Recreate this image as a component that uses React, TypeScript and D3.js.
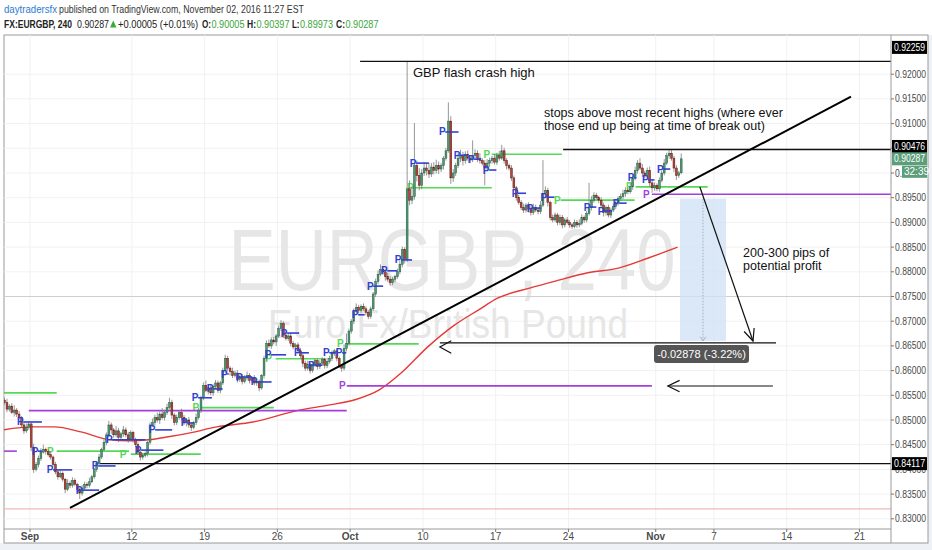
import React, { useMemo } from 'react';
import * as d3 from 'd3';

// 4h bars, index counted from Mon Aug 29 2016 (6 bars per trading day)
const FIRST_BAR = 7;
const firstOpen = 8540; // price * 10000

const closes = [
  8535, 8522, 8528, 8515, 8520, 8512, 8505, 8490, 8478, 8485,
  8492, 8445, 8400, 8410, 8422, 8435, 8440, 8436, 8430, 8425,
  8410, 8395, 8385, 8392, 8380, 8360, 8372, 8368, 8378, 8370,
  8360, 8352, 8362, 8370, 8368, 8375, 8385, 8400, 8412, 8425,
  8440, 8455, 8470, 8490, 8480, 8470, 8478, 8465, 8472, 8480,
  8470, 8462, 8475, 8460, 8450, 8435, 8425, 8428, 8432, 8455,
  8490, 8495, 8505, 8500, 8512, 8505, 8515, 8525, 8535, 8510,
  8495, 8505, 8515, 8505, 8495, 8500, 8490, 8485, 8495, 8505,
  8520, 8545, 8570, 8560, 8565, 8555, 8568, 8575, 8560, 8575,
  8600, 8625, 8605, 8598, 8590, 8595, 8582, 8588, 8578, 8585,
  8590, 8580, 8585, 8575, 8578, 8565, 8590, 8625, 8655, 8650,
  8662, 8658, 8670, 8685, 8695, 8672, 8665, 8670, 8655, 8648,
  8652, 8640, 8630, 8615, 8605, 8612, 8600, 8612, 8620, 8608,
  8615, 8622, 8610, 8618, 8625, 8635, 8640, 8625, 8610, 8605,
  8645, 8655, 8680, 8700, 8720, 8728, 8722, 8730, 8725, 8718,
  8710, 8725, 8755, 8780, 8795, 8805, 8800, 8790, 8785, 8778,
  8785, 8790, 8800, 8815, 8845, 8825, 8968, 8945, 8952, 9015,
  8995, 8975, 9000, 9010, 9005, 8998, 9012, 9005, 9015, 9008,
  9015, 9030, 9045, 9105, 8990, 9000, 9015, 9030, 9035, 9025,
  9038, 9030, 9028, 9035, 9040, 9030, 9025, 9020, 9010, 9020,
  9025, 9030, 9022, 9035, 9030, 9045, 9025, 9015, 9010, 8990,
  8970, 8950, 8940, 8930, 8925, 8935, 8928, 8920, 8930, 8925,
  8922, 8935, 8958, 8965, 8940, 8910, 8905, 8915, 8900, 8910,
  8895, 8905, 8900, 8895, 8892, 8900, 8895, 8898, 8910, 8905,
  8918, 8930, 8945, 8955, 8950, 8945, 8935, 8920, 8930, 8915,
  8925, 8932, 8940, 8948, 8952, 8958, 8965, 8962, 8972, 8990,
  9005, 9020, 9010, 9000, 8995, 9005, 8980, 8970, 8975, 8968,
  8985, 9000, 9020, 9035, 9040, 9030, 9010, 8995, 9000.5, 9028.7,
];

// wick length above / below the body, in pips
const upperWicks = [
  5, 8, 4, 6, 10, 4, 6, 3, 5, 8,
  4, 3, 7, 5, 6, 8, 10, 4, 5, 6,
  3, 5, 4, 6, 4, 3, 8, 5, 6, 4,
  3, 4, 6, 5, 4, 8, 4, 3, 5, 6,
  4, 6, 5, 8, 5, 4, 10, 6, 4, 8,
  5, 6, 4, 3, 4, 5, 3, 6, 4, 3,
  5, 8, 6, 10, 5, 12, 4, 8, 10, 6,
  4, 6, 5, 8, 5, 4, 6, 5, 3, 8,
  5, 4, 6, 10, 5, 8, 4, 6, 5, 4,
  6, 7, 5, 4, 8, 5, 6, 4, 5, 6,
  8, 5, 4, 6, 5, 4, 3, 5, 6, 8,
  5, 6, 4, 6, 7, 5, 8, 4, 6, 5,
  4, 5, 6, 4, 5, 8, 4, 6, 5, 4,
  6, 5, 4, 8, 5, 6, 4, 5, 4, 3,
  8, 20, 5, 4, 6, 8, 5, 4, 6, 5,
  4, 5, 4, 6, 8, 10, 6, 5, 8, 6,
  5, 4, 6, 8, 6, 5, 258, 17, 20, 86,
  10, 15, 8, 12, 10, 15, 8, 10, 12, 8,
  5, 4, 6, 38, 10, 8, 6, 10, 12, 8,
  6, 8, 5, 31, 8, 6, 10, 5, 6, 8,
  6, 5, 8, 6, 10, 12, 6, 5, 4, 6,
  5, 4, 6, 5, 8, 4, 6, 5, 8, 6,
  5, 8, 68, 8, 5, 4, 6, 5, 4, 6,
  5, 4, 6, 5, 4, 6, 5, 8, 6, 4,
  5, 50, 8, 6, 5, 4, 6, 5, 4, 6,
  5, 6, 4, 5, 6, 8, 6, 5, 8, 6,
  8, 6, 10, 8, 5, 6, 8, 5, 6, 4,
  6, 5, 8, 6, 8, 6, 5, 6, 4, 11,
];

const lowerWicks = [
  4, 6, 5, 3, 8, 6, 4, 5, 6, 4,
  5, 8, 7, 4, 6, 5, 3, 6, 4, 5,
  4, 5, 6, 3, 5, 8, 4, 6, 5, 4,
  6, 12, 5, 4, 6, 5, 3, 4, 5, 3,
  4, 3, 6, 5, 8, 6, 5, 10, 4, 6,
  5, 8, 4, 6, 5, 6, 7, 5, 4, 6,
  5, 4, 6, 5, 8, 4, 6, 5, 4, 8,
  6, 5, 4, 6, 5, 8, 6, 7, 4, 5,
  4, 6, 5, 4, 8, 5, 6, 4, 5, 6,
  4, 5, 6, 8, 5, 4, 6, 5, 6, 4,
  5, 6, 4, 5, 6, 7, 4, 6, 5, 4,
  6, 5, 8, 4, 5, 6, 4, 5, 6, 5,
  4, 6, 5, 8, 6, 5, 6, 4, 5, 6,
  5, 4, 6, 5, 4, 6, 5, 6, 5, 7,
  5, 6, 4, 5, 6, 4, 6, 5, 4, 6,
  6, 5, 4, 6, 5, 4, 6, 8, 5, 6,
  5, 6, 4, 5, 6, 8, 5, 10, 8, 6,
  12, 10, 8, 6, 10, 8, 6, 8, 6, 10,
  6, 8, 5, 4, 12, 8, 6, 5, 8, 10,
  6, 5, 8, 6, 5, 8, 6, 5, 35, 6,
  8, 6, 5, 6, 5, 4, 6, 8, 5, 6,
  5, 6, 4, 5, 6, 5, 8, 6, 5, 4,
  6, 5, 4, 6, 8, 6, 5, 4, 6, 5,
  7, 5, 4, 6, 5, 4, 6, 5, 4, 6,
  5, 4, 6, 5, 4, 6, 5, 8, 6, 5,
  6, 4, 5, 6, 4, 5, 6, 5, 4, 6,
  5, 6, 4, 8, 6, 5, 8, 10, 6, 5,
  6, 4, 5, 4, 6, 5, 8, 9, 5, 3.2,
];

// red moving average
const maBars = [7, 19, 28, 39, 51, 59, 67, 75, 84, 95, 110, 129, 141, 152, 162, 171, 182, 193, 203, 211, 224, 236, 248, 261, 273, 285];
const maValues = [0.848, 0.8486, 0.8486, 0.8476, 0.846, 0.8458, 0.846, 0.8466, 0.8474, 0.8486, 0.8496, 0.852, 0.853, 0.8541, 0.8561, 0.8595, 0.8648, 0.8692, 0.8723, 0.8747, 0.8767, 0.8783, 0.8798, 0.8808, 0.8828, 0.885];

const priceTicks = [0.83, 0.835, 0.84, 0.845, 0.85, 0.855, 0.86, 0.865, 0.87, 0.875, 0.88, 0.885, 0.89, 0.895, 0.9, 0.905, 0.91, 0.915, 0.92];
const dateTickBars = [18, 60, 90, 120, 150, 180, 210, 240, 276, 300, 330, 360];
const dateTickLabels = ['Sep', '12', '19', '26', 'Oct', '10', '17', '24', 'Nov', '7', '14', '21'];
const monthLabels = ['Sep', 'Oct', 'Nov'];

// pivot "P" markers: label bar, price, line end bar
const bluePivotBars = [12.6, 18.7, 24.9, 36.9, 43.5, 49.3, 61.2, 67, 80.2, 84.7, 90.9, 96.7, 102.9, 109, 114.8, 121.4, 126.8, 132.6, 138.8, 144.1, 150.7, 156.9, 162.7, 168.4, 174.6, 186.6, 192.7, 198.5, 204.7, 216.6, 222.8, 228.5, 246.3, 252.1, 258.3, 264.5, 270.3, 276.5];
const bluePivotPrices = [0.8496, 0.8437, 0.8399, 0.8358, 0.8407, 0.846, 0.8439, 0.848, 0.8494, 0.8545, 0.8563, 0.8593, 0.8587, 0.8577, 0.8632, 0.8676, 0.8636, 0.8611, 0.8636, 0.8636, 0.8713, 0.8771, 0.8802, 0.8824, 0.902, 0.9083, 0.9036, 0.9028, 0.9006, 0.8959, 0.8929, 0.8951, 0.8931, 0.8923, 0.8939, 0.899, 0.8986, 0.9008];
const bluePivotEnds = [22.9, 23, 35.4, 46.5, 53.3, 65.6, 73, 76.6, 85.5, 93, 97.4, 100, 109.5, 117.6, 123.6, 129, 133, 138.6, 144, 148.4, 156, 163.6, 169.4, 175.5, 182.5, 194.7, 198, 204, 210.3, 222.5, 228.6, 234.2, 251.5, 258, 264, 268, 275.5, 282];

const greenLabelBars = [null, 25, 55, 85, 115, 144.6, 173.4, 205, 234, 263.7];
const greenPrices = [0.8555, 0.8437, 0.8431, 0.8525, 0.8624, 0.8654, 0.897, 0.9038, 0.8945, 0.8972];
const greenStarts = [6.8, 29, 59.6, 88.8, 119.3, 148.2, 175, 208.4, 236.8, 267.7];
const greenEnds = [29, 58.8, 88.4, 118.5, 139.9, 178.3, 208.4, 237.3, 267.3, 297.4];

const purpleLabelBars = [null, null, 145.4, 270.7];
const purplePrices = [0.8437, 0.8519, 0.8569, 0.8957];
const purpleStarts = [6.8, 17.5, 148.6, 274.4];
const purpleEnds = [12.6, 148.6, 274.4, 373];

// drawings
const blackLevels = [0.92259, 0.90476, 0.84117];
const blackLevelStarts = [154.1, 237.8, 46.9];
const targetLevel = 0.8656;
const targetStart = 187;
const targetEnd = 325.6;
const trendBars = [34.5, 356.5];
const trendPrices = [0.83219, 0.91545];
const profitArrowBars = [294.2, 316.1];
const profitArrowPrices = [0.89717, 0.86599];
const supportArrowBars = [324.3, 281];
const supportArrowPrice = 0.85688;
const measureBars = [286, 305];
const measurePrices = [0.8948, 0.86602];
const measureLabel = '-0.02878 (-3.22%)';
const greyLevel = 0.875;
const pinkLevel = 0.832;

const notes = [
  { bar: 175.9, price: 0.91943, text: 'GBP flash crash high', size: 13 },
  { bar: 229.9, price: 0.91134, text: 'stops above most recent highs (where ever', size: 12.5 },
  { bar: 229.9, price: 0.90871, text: 'those end up being at time of break out)', size: 12.5 },
  { bar: 312, price: 0.883, text: '200-300 pips of', size: 12.5 },
  { bar: 312, price: 0.88037, text: 'potential profit', size: 12.5 },
];

const axisBoxes = [
  { price: 0.92259, text: '0.92259', fill: '#000' },
  { price: 0.90476, text: '0.90476', fill: '#000' },
  { price: 0.90287, text: '0.90287', fill: '#5c9e7a' },
  { price: 0.84117, text: '0.84117', fill: '#000' },
];
const countdown = '32:39';

const FONT = 'Liberation Sans, Arial, sans-serif';
const BLUE = '#3040d2';
const GREEN = '#55d855';
const PURPLE = '#a43fdc';

const arrowHead = (x1: number, y1: number, x2: number, y2: number, len = 12, spread = 0.45) => {
  const a = Math.atan2(y1 - y2, x1 - x2);
  const p1 = [x2 + len * Math.cos(a + spread), y2 + len * Math.sin(a + spread)];
  const p2 = [x2 + len * Math.cos(a - spread), y2 + len * Math.sin(a - spread)];
  return `M${p1[0]},${p1[1]} L${x2},${y2} L${p2[0]},${p2[1]}`;
};

const App: React.FC = () => {
  const W = 932;
  const H = 550;
  const plot = { left: 4, top: 35, right: 891, bottom: 529 };

  const { x, y, candles, maPath } = useMemo(() => {
    const x = d3.scaleLinear().domain([18, 373]).range([30, 891]);
    const y = d3.scaleLinear().domain([0.83, 0.92]).range([518.8, 74.2]);
    const candles = closes.map((c, i) => {
      const o = i === 0 ? firstOpen : closes[i - 1];
      return {
        bar: FIRST_BAR + i,
        o: o / 1e4,
        c: c / 1e4,
        h: (Math.max(o, c) + upperWicks[i]) / 1e4,
        l: (Math.min(o, c) - lowerWicks[i]) / 1e4,
      };
    });
    const maPath = d3.line<number>()
      .x((_, i) => x(maBars[i]))
      .y((d) => y(d))
      .curve(d3.curveMonotoneX)(maValues) || '';
    return { x, y, candles, maPath };
  }, []);

  const barW = x(1) - x(0);
  const boxNudge: Record<string, number> = { '0.92259': -14, '0.90476': -3 };

  return (
    <svg width={W} height={H} style={{ position: 'absolute', left: 0, top: 0, background: '#fff' }} fontFamily={FONT}>
      <defs>
        <clipPath id="plotClip">
          <rect x={plot.left} y={plot.top} width={plot.right - plot.left} height={plot.bottom - plot.top} />
        </clipPath>
      </defs>

      {/* header */}
      <g fontSize={11}>
        <text x={4} y={12.5} fill="#2d7cd1" textLength={53} lengthAdjust="spacingAndGlyphs">daytradersfx</text>
        <text x={59} y={12.5} fill="#333" textLength={245} lengthAdjust="spacingAndGlyphs">published on TradingView.com, November 02, 2016 11:27 EST</text>
        <text x={4} y={27.5} fill="#222" fontWeight="bold" textLength={68} lengthAdjust="spacingAndGlyphs">FX:EURGBP, 240</text>
        <text x={77} y={27.5} fill="#222" textLength={32} lengthAdjust="spacingAndGlyphs">0.90287</text>
        <path d="M110,27.5 L116.5,27.5 L113.25,20.5 Z" fill="#3cab3c" />
        <text x={118} y={27.5} fill="#222" textLength={80} lengthAdjust="spacingAndGlyphs">+0.00005 (+0.01%)</text>
        {[
          { k: 'O:', kx: 202, kw: 9, v: '0.90005', vx: 211.5 },
          { k: 'H:', kx: 247, kw: 9, v: '0.90397', vx: 256.5 },
          { k: 'L:', kx: 292, kw: 7.5, v: '0.89973', vx: 300 },
          { k: 'C:', kx: 336, kw: 9, v: '0.90287', vx: 345.5 },
        ].map((d) => (
          <g key={d.k}>
            <text x={d.kx} y={27.5} fill="#222" fontWeight="bold" textLength={d.kw} lengthAdjust="spacingAndGlyphs">{d.k}</text>
            <text x={d.vx} y={27.5} fill="#3aa53a" textLength={33} lengthAdjust="spacingAndGlyphs">{d.v}</text>
          </g>
        ))}
      </g>

      {/* outer frame */}
      <rect x={0} y={543} width={W} height={H - 543} fill="#eef1f5" />
      <rect x={928} y={35} width={4} height={508} fill="#eef1f5" />
      <rect x={4} y={35} width={924} height={508} fill="#fff" stroke="#9a9a9a" strokeWidth={1} />

      {/* grid */}
      <g stroke="#f1f1f1" strokeWidth={1}>
        {priceTicks.map((p) => (
          <line key={p} x1={plot.left} x2={plot.right} y1={y(p)} y2={y(p)} />
        ))}
        {dateTickBars.map((b) => (
          <line key={b} x1={x(b)} x2={x(b)} y1={plot.top} y2={plot.bottom} />
        ))}
      </g>

      <g clipPath="url(#plotClip)">
        {/* watermark */}
        <text x={452} y={290} textAnchor="middle" fontSize={88} fill="#e6e6e6" textLength={447} lengthAdjust="spacingAndGlyphs">EURGBP, 240</text>
        <text x={448} y={338} textAnchor="middle" fontSize={40} fill="#e6e6e6" textLength={360} lengthAdjust="spacingAndGlyphs">Euro Fx/British Pound</text>

        <line x1={plot.left} x2={plot.right} y1={y(greyLevel)} y2={y(greyLevel)} stroke="#cfcfcf" strokeWidth={1} />
        <line x1={plot.left} x2={plot.right} y1={y(pinkLevel)} y2={y(pinkLevel)} stroke="#f2b8b8" strokeWidth={1.2} />

        {/* moving average */}
        <path d={maPath} fill="none" stroke="#e53935" strokeWidth={1.4} />

        {/* pivot levels */}
        {greenPrices.map((p, i) => (
          <g key={`g${i}`}>
            <line x1={x(greenStarts[i])} x2={x(greenEnds[i])} y1={y(p)} y2={y(p)} stroke={GREEN} strokeWidth={1.6} />
            {greenLabelBars[i] !== null && (
              <text x={x(greenLabelBars[i] as number)} y={y(p) + 3.5} fontSize={10} fontWeight="bold" fill={GREEN}>P</text>
            )}
          </g>
        ))}
        {purplePrices.map((p, i) => (
          <g key={`p${i}`}>
            <line x1={x(purpleStarts[i])} x2={x(purpleEnds[i])} y1={y(p)} y2={y(p)} stroke={PURPLE} strokeWidth={1.6} />
            {purpleLabelBars[i] !== null && (
              <text x={x(purpleLabelBars[i] as number)} y={y(p) + 3.5} fontSize={10} fontWeight="bold" fill={PURPLE}>P</text>
            )}
          </g>
        ))}

        {/* candles */}
        {candles.map((d) => {
          const cx = x(d.bar + 0.5);
          const up = d.c >= d.o;
          const top = y(Math.max(d.o, d.c));
          const bh = Math.max(0.8, Math.abs(y(d.o) - y(d.c)));
          return (
            <g key={d.bar}>
              <line x1={cx} x2={cx} y1={y(d.h)} y2={y(d.l)} stroke="#7a7c80" strokeWidth={0.8} />
              <rect
                x={cx - barW * 0.38}
                y={top}
                width={barW * 0.76}
                height={bh}
                fill={up ? '#4f9873' : '#b3463a'}
                stroke={up ? '#2b5e45' : '#5b1d16'}
                strokeWidth={0.5}
              />
            </g>
          );
        })}

        {bluePivotPrices.map((p, i) => (
          <g key={`b${i}`}>
            <text x={x(bluePivotBars[i])} y={y(p) + 3.5} fontSize={10} fontWeight="bold" fill={BLUE}>P</text>
            <line x1={x(bluePivotBars[i] + 2.6)} x2={x(bluePivotEnds[i])} y1={y(p)} y2={y(p)} stroke={BLUE} strokeWidth={1.6} />
          </g>
        ))}

        {/* drawings */}
        {blackLevels.map((p, i) => (
          <line key={p} x1={x(blackLevelStarts[i])} x2={plot.right} y1={y(p)} y2={y(p)} stroke="#111" strokeWidth={1.3} />
        ))}
        <line x1={x(targetStart)} x2={x(targetEnd)} y1={y(targetLevel)} y2={y(targetLevel)} stroke="#111" strokeWidth={1.3} />
        <path d={arrowHead(x(targetStart) + 14, y(targetLevel) + 4, x(targetStart), y(targetLevel) + 4, 13, 0.5)} fill="none" stroke="#111" strokeWidth={1.2} />

        <line x1={x(trendBars[0])} y1={y(trendPrices[0])} x2={x(trendBars[1])} y2={y(trendPrices[1])} stroke="#000" strokeWidth={2} />

        {/* measure tool */}
        <rect
          x={x(measureBars[0])}
          y={y(measurePrices[0])}
          width={x(measureBars[1]) - x(measureBars[0])}
          height={y(measurePrices[1]) - y(measurePrices[0])}
          fill="#cfe0f6"
          opacity={0.75}
        />
        <line
          x1={(x(measureBars[0]) + x(measureBars[1])) / 2}
          x2={(x(measureBars[0]) + x(measureBars[1])) / 2}
          y1={y(measurePrices[0])}
          y2={y(measurePrices[1])}
          stroke="#9aa6b4"
          strokeWidth={0.8}
          strokeDasharray="1.5 1.5"
        />
        <path
          d={arrowHead(
            (x(measureBars[0]) + x(measureBars[1])) / 2, y(measurePrices[1]) - 10,
            (x(measureBars[0]) + x(measureBars[1])) / 2, y(measurePrices[1]), 5, 0.6)}
          fill="none"
          stroke="#9aa6b4"
          strokeWidth={0.8}
        />

        {/* arrows */}
        <line x1={x(profitArrowBars[0])} y1={y(profitArrowPrices[0])} x2={x(profitArrowBars[1])} y2={y(profitArrowPrices[1])} stroke="#111" strokeWidth={1.2} />
        <path d={arrowHead(x(profitArrowBars[0]), y(profitArrowPrices[0]), x(profitArrowBars[1]), y(profitArrowPrices[1]), 13, 0.42)} fill="none" stroke="#111" strokeWidth={1.2} />
        <line x1={x(supportArrowBars[0])} y1={y(supportArrowPrice)} x2={x(supportArrowBars[1])} y2={y(supportArrowPrice)} stroke="#111" strokeWidth={1.2} />
        <path d={arrowHead(x(supportArrowBars[0]), y(supportArrowPrice), x(supportArrowBars[1]), y(supportArrowPrice), 13, 0.45)} fill="none" stroke="#111" strokeWidth={1.2} />

        {/* notes */}
        {notes.map((n) => (
          <text key={n.text} x={x(n.bar)} y={y(n.price)} fontSize={n.size} fill="#111">{n.text}</text>
        ))}

        {/* measure label */}
        <g>
          <rect x={654} y={345} width={95} height={18} rx={3} fill="#555" />
          <text x={701.5} y={358} textAnchor="middle" fontSize={11} fill="#fff">{measureLabel}</text>
        </g>
      </g>

      {/* axes */}
      <line x1={plot.right} x2={plot.right} y1={plot.top} y2={543} stroke="#9a9a9a" />
      <line x1={plot.left} x2={plot.right} y1={plot.bottom} y2={plot.bottom} stroke="#9a9a9a" />
      <g fontSize={10} fill="#4a4a4a">
        {priceTicks.map((p) => (
          <g key={p}>
            <line x1={plot.right} x2={plot.right + 3} y1={y(p)} y2={y(p)} stroke="#777" />
            <text x={plot.right + 4} y={y(p) + 3.5} textLength={31} lengthAdjust="spacingAndGlyphs">{p.toFixed(5)}</text>
          </g>
        ))}
        {dateTickBars.map((b, i) => (
          <g key={b}>
            <line x1={x(b)} x2={x(b)} y1={plot.bottom} y2={plot.bottom + 3} stroke="#777" />
            <text
              x={x(b)}
              y={plot.bottom + 11}
              textAnchor="middle"
              fontWeight={monthLabels.includes(dateTickLabels[i]) ? 'bold' : 'normal'}
            >
              {dateTickLabels[i]}
            </text>
          </g>
        ))}
      </g>
      {axisBoxes.map((d) => {
        const cy = y(d.price) + (boxNudge[d.text] || 0);
        return (
          <g key={d.text}>
            <rect x={plot.right + 1} y={cy - 6.5} width={35} height={13} fill={d.fill} />
            <text x={plot.right + 3} y={cy + 3.5} fontSize={10} fill="#fff" textLength={31} lengthAdjust="spacingAndGlyphs">{d.text}</text>
          </g>
        );
      })}
      <rect x={902} y={y(0.90287) + 7} width={25} height={12} fill="#5c9e7a" />
      <text x={904} y={y(0.90287) + 16.5} fontSize={10} fill="#fff">{countdown}</text>
    </svg>
  );
};

export default App;
